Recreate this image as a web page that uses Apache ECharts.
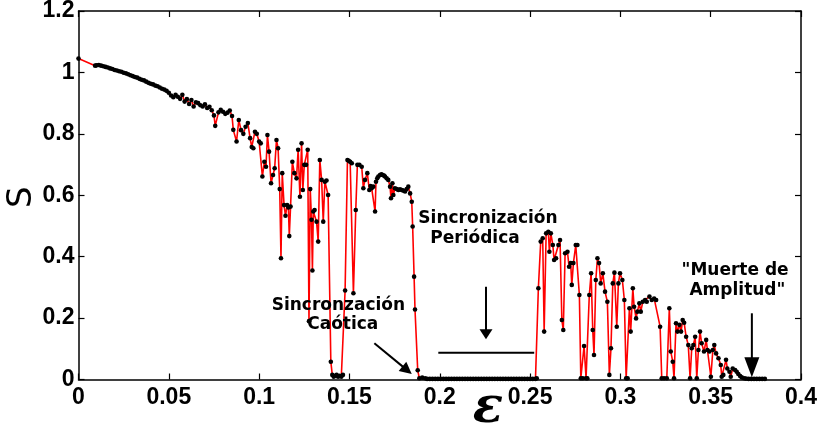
<!DOCTYPE html>
<html><head><meta charset="utf-8">
<script src="https://cdn.jsdelivr.net/npm/echarts@6/dist/echarts.min.js"></script>
<style>html,body{margin:0;padding:0;background:#fff}#c{width:817px;height:433px}</style>
</head><body><div id="c"></div>
<script>
// ---- data: [epsilon, S] ----
const segA = [[0,1.045],[0.0092,1.022],[0.01,1.023],[0.01125,1.024],[0.0125,1.022],[0.01375,1.02],[0.015,1.018],[0.01625,1.016],[0.0175,1.013],[0.01875,1.011],[0.02,1.008],[0.02125,1.006],[0.0225,1.004],[0.02375,1.002],[0.025,0.999],[0.02625,0.997],[0.0275,0.994],[0.02875,0.991],[0.03,0.988],[0.03125,0.985],[0.0325,0.983],[0.03375,0.979],[0.035,0.976],[0.03625,0.974],[0.0375,0.97],[0.03875,0.966],[0.04,0.963],[0.04125,0.961],[0.0425,0.957],[0.04375,0.955],[0.045,0.951],[0.04625,0.947],[0.0475,0.944],[0.04875,0.94],[0.05,0.934]];
const segB = [[0.05125,0.925],[0.0525,0.919],[0.05375,0.927],[0.055,0.921],[0.05625,0.914],[0.0575,0.927],[0.05875,0.905],[0.06,0.913],[0.06125,0.897],[0.0625,0.91],[0.06375,0.889],[0.065,0.903],[0.06625,0.9],[0.0675,0.893],[0.06875,0.889],[0.07,0.896],[0.07125,0.884],[0.0725,0.888],[0.07375,0.877],[0.075,0.86],[0.0757,0.826],[0.0775,0.87],[0.07875,0.878],[0.08,0.872],[0.08125,0.865],[0.0825,0.869],[0.08375,0.876],[0.085,0.858],[0.0857,0.813],[0.0875,0.775],[0.08875,0.845],[0.09,0.812],[0.09125,0.8],[0.0925,0.823],[0.09375,0.835],[0.095,0.786],[0.0959,0.757],[0.0968,0.753],[0.0977,0.807],[0.0987,0.8]];
const segC = [[0.1,0.775],[0.1009,0.769],[0.1018,0.661],[0.1029,0.709],[0.1038,0.693],[0.1046,0.796],[0.1055,0.742],[0.1066,0.639],[0.1077,0.666],[0.1086,0.688],[0.1096,0.78],[0.1105,0.753],[0.1114,0.62],[0.1121,0.395],[0.1128,0.672],[0.1138,0.568],[0.1146,0.533],[0.1155,0.568],[0.1162,0.56],[0.1167,0.467],[0.1174,0.563],[0.1184,0.709],[0.1195,0.672],[0.1207,0.655],[0.1216,0.748],[0.1226,0.595],[0.1235,0.769],[0.1242,0.617],[0.125,0.699],[0.126,0.699],[0.1269,0.748],[0.1276,0.19],[0.1283,0.62],[0.129,0.52],[0.1295,0.355],[0.13,0.547],[0.1307,0.552],[0.1318,0.514],[0.1327,0.449],[0.1336,0.715],[0.1346,0.65],[0.1355,0.514],[0.1364,0.644],[0.1373,0.648],[0.1382,0.601],[0.1397,0.058],[0.1405,0.015],[0.1413,0.009],[0.1421,0.012],[0.1429,0.015],[0.1437,0.009],[0.1446,0.012],[0.1455,0.009],[0.1464,0.015],[0.1476,0.29]];
const segD = [[0.1489,0.715],[0.1496,0.712],[0.1504,0.709],[0.1513,0.704],[0.1522,0.281],[0.1535,0.552],[0.1544,0.699],[0.1555,0.699],[0.1568,0.693],[0.1577,0.623],[0.1586,0.65],[0.1599,0.672],[0.161,0.617],[0.1617,0.63],[0.1623,0.623],[0.1632,0.628],[0.1642,0.547],[0.1647,0.644],[0.1654,0.655],[0.166,0.661],[0.1669,0.666],[0.1677,0.668],[0.1684,0.666],[0.1691,0.664],[0.1697,0.661],[0.1706,0.655],[0.1715,0.65],[0.1725,0.628],[0.173,0.59],[0.1738,0.639],[0.1743,0.601],[0.1752,0.623],[0.1762,0.62],[0.1771,0.617],[0.178,0.619],[0.179,0.617],[0.1799,0.615],[0.1808,0.612],[0.1817,0.62],[0.1826,0.628],[0.1836,0.606],[0.1845,0.579],[0.185,0.498],[0.1858,0.335],[0.1863,0.228],[0.1878,0.03],[0.1887,0.004],[0.1903,0.006],[0.1919,0.004]];
const segE = [[0.193,0.002],[0.1945,0.002],[0.196,0.002],[0.1975,0.002],[0.199,0.002],[0.2005,0.002],[0.202,0.002],[0.2035,0.002],[0.205,0.002],[0.2065,0.002],[0.208,0.002],[0.2095,0.002],[0.211,0.002],[0.2125,0.002],[0.214,0.002],[0.2155,0.002],[0.217,0.002],[0.2185,0.002],[0.22,0.002],[0.2215,0.002],[0.223,0.002],[0.2245,0.002],[0.226,0.002],[0.2275,0.002],[0.229,0.002],[0.2305,0.002],[0.232,0.002],[0.2335,0.002],[0.235,0.002],[0.2365,0.002],[0.238,0.002],[0.2395,0.002],[0.241,0.002],[0.2425,0.002],[0.244,0.002],[0.2455,0.002],[0.247,0.002],[0.2485,0.002],[0.25,0.002],[0.2515,0.002],[0.253,0.002]];
const segF = [[0.2537,0.004],[0.2546,0.297],[0.2559,0.449],[0.257,0.46],[0.2578,0.156],[0.2589,0.476],[0.2601,0.481],[0.2607,0.416],[0.2615,0.476],[0.2626,0.438],[0.2633,0.389],[0.2644,0.395],[0.2657,0.438],[0.2666,0.454],[0.2676,0.194],[0.2684,0.161],[0.2694,0.411],[0.2707,0.416],[0.2716,0.367],[0.2725,0.379],[0.2731,0.308],[0.274,0.379],[0.2753,0.438],[0.2762,0.438],[0.2773,0.275],[0.2781,0.004],[0.2792,0.004],[0.2799,0.109],[0.281,0.004],[0.2817,0.004],[0.2828,0.275],[0.2838,0.346],[0.2847,0.161],[0.2854,0.08],[0.2864,0.324],[0.2873,0.395],[0.2882,0.379],[0.2891,0.313],[0.2903,0.346],[0.2915,0.286],[0.2928,0.253],[0.2939,0.015],[0.2948,0.102],[0.2958,0.313],[0.2967,0.348],[0.298,0.172],[0.2989,0.313],[0.2998,0.346],[0.3011,0.324],[0.3022,0.259]];
const segG = [[0.3032,0.004],[0.304,0.004],[0.305,0.232],[0.3057,0.156],[0.3069,0.297],[0.3076,0.237],[0.3087,0.199],[0.3094,0.221],[0.3105,0.248],[0.3113,0.221],[0.3124,0.253],[0.3137,0.259],[0.3146,0.253],[0.3161,0.27],[0.3174,0.259],[0.3187,0.264],[0.3198,0.259],[0.322,0.172],[0.3229,0.004],[0.3242,0.004],[0.3257,0.004],[0.3271,0.232],[0.3279,0.091],[0.329,0.058],[0.3297,0.004],[0.3308,0.183],[0.3316,0.156],[0.3327,0.178],[0.3336,0.156],[0.3345,0.194],[0.3353,0.185],[0.3364,0.139],[0.3376,0.112],[0.3386,0.004],[0.3395,0.102],[0.3404,0.112],[0.3414,0.139],[0.3423,0.004],[0.3432,0.096],[0.3441,0.156],[0.345,0.118],[0.3463,0.091],[0.3475,0.129],[0.3482,0.096],[0.3493,0.091],[0.3501,0.009],[0.3512,0.096],[0.352,0.112],[0.353,0.085],[0.3543,0.069],[0.3556,0.047],[0.3561,0.009],[0.357,0.015],[0.3585,0.064],[0.3592,0.036],[0.3604,0.025],[0.3611,0.009],[0.3622,0.036],[0.3635,0.031],[0.3644,0.025],[0.3653,0.018],[0.3663,0.011],[0.3672,0.007],[0.3685,0.004]];
const segH = [[0.3695,0.003],[0.371,0.002],[0.3725,0.002],[0.374,0.002],[0.3755,0.002],[0.377,0.002],[0.3785,0.002],[0.38,0.002]];

const xTickLabels = ['0','0.05','0.1','0.15','0.2','0.25','0.3','0.35','0.4'];
const yTickLabels = ['0','0.2','0.4','0.6','0.8','1','1.2'];

// annotations in data coordinates
const texts = [
  {t:'Sincronización', at:[0.2267,0.525]},
  {t:'Periódica', at:[0.2195,0.46]},
  {t:'Sincronzación', at:[0.1439,0.2394]},
  {t:'Caótica', at:[0.1463,0.1775]},
  {t:'"Muerte de', at:[0.3635,0.3544]},
  {t:'Amplitud"', at:[0.3648,0.2893]}
];
const arrows = [
  {from:[0.2256,0.302], to:[0.2256,0.131], L:10, W:13},
  {from:[0.1638,0.118], to:[0.1845,0.018], L:12, W:12},
  {from:[0.3728,0.2156], to:[0.3728,0.007], L:20, W:15}
];
const hLine = [[0.1992,0.0873],[0.2523,0.0873]];

const data = [].concat(segA, segB, segC, segD, segE, segF, segG, segH);
const FONT = 'Liberation Sans';
const chart = echarts.init(document.getElementById('c'));
const fmtX = v => { const i = Math.round(v/0.05); return xTickLabels[i] ?? ''; };
const fmtY = v => { const i = Math.round(v/0.2); return yTickLabels[i] ?? ''; };
const axLine = {show:true, onZero:false, lineStyle:{color:'#000', width:1.5}};
const axTick = {show:true, inside:true, length:6, lineStyle:{color:'#000', width:1.2}};
chart.setOption({
  animation:false,
  backgroundColor:'#fff',
  grid:{left:78.5, right:16, top:11, bottom:53.5, containLabel:false, outerBoundsMode:'none'},
  xAxis:[
    {type:'value', min:0, max:0.4, interval:0.05, position:'bottom', axisLine:axLine, axisTick:axTick, splitLine:{show:false},
     axisLabel:{formatter:fmtX, color:'#000', fontSize:23, fontWeight:'bold', fontFamily:FONT, margin:7}},
    {type:'value', min:0, max:0.4, interval:0.05, position:'top', axisLine:axLine, axisTick:axTick, splitLine:{show:false}, axisLabel:{show:false}}
  ],
  yAxis:[
    {type:'value', min:0, max:1.2, interval:0.2, position:'left', axisLine:axLine, axisTick:axTick, splitLine:{show:false},
     axisLabel:{formatter:fmtY, color:'#000', fontSize:23, fontWeight:'bold', fontFamily:FONT, margin:4}},
    {type:'value', min:0, max:1.2, interval:0.2, position:'right', axisLine:axLine, axisTick:axTick, splitLine:{show:false}, axisLabel:{show:false}}
  ],
  series:[{
    type:'line', data:data, xAxisIndex:0, yAxisIndex:0,
    symbol:'circle', symbolSize:4.6, showAllSymbol:true, sampling:null,
    itemStyle:{color:'#000', borderWidth:0},
    lineStyle:{color:'#ff0000', width:1.6},
    emphasis:{disabled:true}, silent:true
  }]
});

const P = c => chart.convertToPixel({xAxisIndex:0, yAxisIndex:0}, c);
const g = [];
texts.forEach(o => {
  const p = P(o.at);
  g.push({type:'text', x:p[0], y:p[1], style:{text:o.t, fill:'#000', font:'bold 17px "DejaVu Sans"', align:'center', verticalAlign:'middle'}, z:10});
});
arrows.forEach(a => {
  const p0 = P(a.from), p1 = P(a.to);
  const dx = p1[0]-p0[0], dy = p1[1]-p0[1], len = Math.hypot(dx,dy);
  const ux = dx/len, uy = dy/len, nx = -uy, ny = ux;
  const bx = p1[0]-ux*a.L, by = p1[1]-uy*a.L;
  g.push({type:'line', shape:{x1:p0[0], y1:p0[1], x2:bx+ux*2, y2:by+uy*2}, style:{stroke:'#000', lineWidth:2}, z:10});
  g.push({type:'polygon', shape:{points:[[p1[0],p1[1]],[bx+nx*a.W/2, by+ny*a.W/2],[bx-nx*a.W/2, by-ny*a.W/2]]}, style:{fill:'#000'}, z:10});
});
{
  const a = P(hLine[0]), b = P(hLine[1]);
  g.push({type:'line', shape:{x1:a[0], y1:a[1], x2:b[0], y2:b[1]}, style:{stroke:'#000', lineWidth:2}, z:10});
}
// axis titles
{
  const pe = P([0.2267, 0]);
  g.push({type:'text', x:pe[0], y:pe[1]+30, style:{text:'ε', fill:'#000', font:'italic bold 50px "DejaVu Serif"', align:'center', verticalAlign:'middle'}, z:10});
  const ps = P([0, 0.6]);
  g.push({type:'text', x:ps[0]-56, y:ps[1]+2, rotation:Math.PI/2, style:{text:'S', fill:'#000', font:'34px "DejaVu Sans"', align:'center', verticalAlign:'middle'}, z:10});
}
chart.setOption({graphic:g});
</script>
</body></html>
